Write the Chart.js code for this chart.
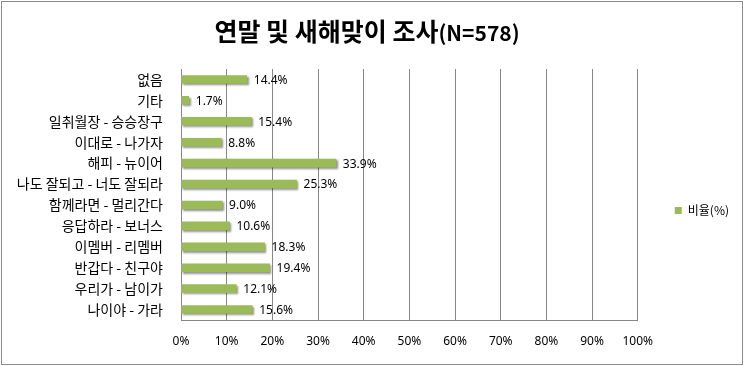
<!DOCTYPE html>
<html>
<head>
<meta charset="utf-8">
<script src="https://cdn.jsdelivr.net/npm/chart.js@4.4.0/dist/chart.umd.min.js"></script>
<style>
  html, body { margin: 0; padding: 0; background: #fff; }
  #wrap { width: 744px; height: 366px; position: relative; }
</style>
</head>
<body>
<div id="wrap"><canvas id="myChart"></canvas></div>
<script>
var categories = ['없음', '기타', '일취월장 - 승승장구', '이대로 - 나가자', '해피 - 뉴이어', '나도 잘되고 - 너도 잘되라',
    '함께라면 - 멀리간다', '응답하라 - 보너스', '이멤버 - 리멤버', '반갑다 - 친구야', '우리가 - 남이가', '나이야 - 가라'];
var ratios = [14.4, 1.7, 15.4, 8.8, 33.9, 25.3, 9.0, 10.6, 18.3, 19.4, 12.1, 15.6];
var seriesName = '비율(%)';
var titleMain = '연말 및 새해맞이 조사';
var titleSub = '(N=578)';
var xMin = 0;
var xMax = 100;
var xStep = 10;

var korFont = "'Noto Sans CJK KR', 'Noto Sans', sans-serif";
var numFont = "'Noto Sans', 'Liberation Sans', sans-serif";
var gridColor = '#878787';
var barColor = '#9BBB59';

// grey frame round the whole chart
var framePlugin = {
    id: 'frame',
    beforeDraw: function (chart) {
        var ctx = chart.ctx;
        ctx.save();
        ctx.strokeStyle = '#8c8c8c';
        ctx.lineWidth = 1;
        ctx.strokeRect(1.5, 1.5, chart.width - 3, chart.height - 3);
        ctx.restore();
    }
};

// title in two fonts, like the original
var titlePlugin = {
    id: 'twoFontTitle',
    afterDraw: function (chart) {
        var ctx = chart.ctx;
        ctx.save();
        var f1 = 'bold 25px ' + korFont;
        var f2 = 'bold 21px ' + korFont;
        ctx.font = f1;
        var w1 = ctx.measureText(titleMain).width;
        ctx.font = f2;
        var w2 = ctx.measureText(titleSub).width;
        var x = chart.width / 2 - (w1 + w2) / 2 - 5;
        var y = 41;
        ctx.fillStyle = '#000';
        ctx.textBaseline = 'alphabetic';
        ctx.textAlign = 'left';
        ctx.font = f1;
        ctx.fillText(titleMain, x, y);
        ctx.font = f2;
        ctx.fillText(titleSub, x + w1, y);
        ctx.restore();
    }
};

// soft shadow under the bars
var shadowPlugin = {
    id: 'barShadow',
    beforeDatasetsDraw: function (chart) {
        var ctx = chart.ctx;
        ctx.save();
        ctx.shadowColor = 'rgba(0,0,0,0.45)';
        ctx.shadowOffsetX = 1.5;
        ctx.shadowOffsetY = 1.5;
        ctx.shadowBlur = 2;
    },
    afterDatasetsDraw: function (chart) {
        chart.ctx.restore();
    }
};

// value labels right of each bar
var valueLabels = {
    id: 'valueLabels',
    afterDraw: function (chart) {
        var ctx = chart.ctx;
        var meta = chart.getDatasetMeta(0);
        ctx.save();
        ctx.font = '12px ' + numFont;
        ctx.fillStyle = '#000';
        ctx.textBaseline = 'middle';
        ctx.textAlign = 'left';
        meta.data.forEach(function (bar, i) {
            ctx.fillText(ratios[i].toFixed(1) + '%', bar.x + 7, bar.y + 1);
        });
        ctx.restore();
    }
};

var ctx = document.getElementById('myChart').getContext('2d');
var myChart = new Chart(ctx, {
    type: 'bar',
    data: {
        labels: categories,
        datasets: [{
            label: seriesName,
            data: ratios,
            backgroundColor: barColor,
            borderWidth: 0,
            barThickness: 8
        }]
    },
    options: {
        indexAxis: 'y',
        responsive: true,
        maintainAspectRatio: false,
        animation: false,
        layout: {
            padding: { top: 69, left: 0, right: 5, bottom: 14 }
        },
        scales: {
            x: {
                min: xMin,
                max: xMax,
                ticks: {
                    stepSize: xStep,
                    padding: 14,
                    color: '#000',
                    font: { family: numFont, size: 12 },
                    callback: function (v) { return v + '%'; }
                },
                grid: { color: gridColor, drawTicks: false, lineWidth: 1 },
                border: { color: gridColor, width: 1 },
                afterFit: function (scale) { scale.height = 32; }
            },
            y: {
                ticks: {
                    padding: 18,
                    color: '#000',
                    font: { family: korFont, size: 14 }
                },
                grid: { display: false, drawTicks: false },
                border: { color: gridColor, width: 1 },
                afterFit: function (scale) { scale.width = 181; }
            }
        },
        plugins: {
            title: { display: false },
            tooltip: { enabled: false },
            legend: {
                position: 'right',
                labels: {
                    boxWidth: 7,
                    boxHeight: 7,
                    padding: 37,
                    color: '#000',
                    font: { family: korFont, size: 12 }
                }
            }
        }
    },
    plugins: [framePlugin, titlePlugin, shadowPlugin, valueLabels]
});
</script>
</body>
</html>
